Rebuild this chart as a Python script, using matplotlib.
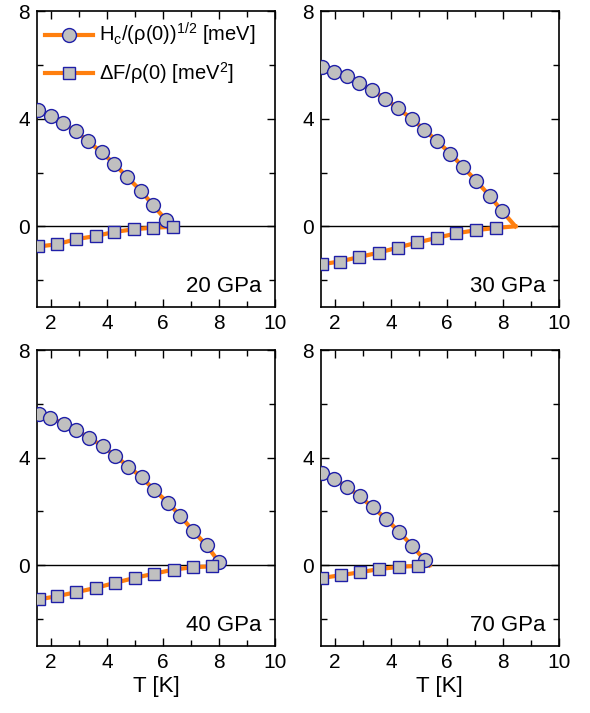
import numpy as np
import matplotlib
matplotlib.use('Agg')
import matplotlib.pyplot as plt
from matplotlib.ticker import MultipleLocator

plt.rcParams['font.family'] = ['Liberation Sans', 'DejaVu Sans']
plt.rcParams['mathtext.fontset'] = 'custom'
plt.rcParams['mathtext.rm'] = 'Liberation Sans'
plt.rcParams['mathtext.it'] = 'Liberation Sans'

pressures = ['20 GPa', '30 GPa', '40 GPa', '70 GPa']
tc = [6.4, 8.45, 8.05, 5.38]

# Hc/(rho(0))^1/2 [meV]
hc_t = [
    [1.55, 1.99, 2.43, 2.89, 3.33, 3.81, 4.26, 4.72, 5.22, 5.65, 6.12],
    [1.52, 1.96, 2.42, 2.87, 3.32, 3.80, 4.25, 4.75, 5.19, 5.65, 6.13, 6.58, 7.06, 7.54, 7.98],
    [1.56, 1.97, 2.45, 2.91, 3.36, 3.85, 4.30, 4.77, 5.24, 5.69, 6.18, 6.62, 7.08, 7.56, 8.01],
    [1.55, 1.96, 2.44, 2.89, 3.35, 3.83, 4.28, 4.76, 5.21],
]
hc_v = [
    [4.33, 4.10, 3.83, 3.53, 3.16, 2.75, 2.33, 1.83, 1.32, 0.78, 0.23],
    [5.94, 5.75, 5.57, 5.32, 5.05, 4.75, 4.38, 4.00, 3.59, 3.17, 2.70, 2.20, 1.68, 1.12, 0.56],
    [5.64, 5.49, 5.27, 5.02, 4.74, 4.43, 4.06, 3.67, 3.27, 2.80, 2.33, 1.84, 1.28, 0.74, 0.12],
    [3.44, 3.21, 2.91, 2.56, 2.15, 1.73, 1.25, 0.73, 0.19],
]

# dF/rho(0) [meV^2]
df_t = [
    [1.55, 2.20, 2.89, 3.60, 4.26, 4.96, 5.65, 6.37],
    [1.52, 2.17, 2.87, 3.56, 4.25, 4.95, 5.64, 6.34, 7.06, 7.75],
    [1.56, 2.21, 2.90, 3.61, 4.30, 4.99, 5.69, 6.39, 7.08, 7.77],
    [1.55, 2.20, 2.89, 3.58, 4.28, 4.97],
]
df_v = [
    [-0.75, -0.67, -0.48, -0.36, -0.21, -0.11, -0.05, -0.02],
    [-1.41, -1.31, -1.14, -0.98, -0.79, -0.60, -0.43, -0.26, -0.14, -0.06],
    [-1.27, -1.15, -1.00, -0.84, -0.65, -0.47, -0.31, -0.16, -0.07, -0.04],
    [-0.47, -0.37, -0.26, -0.14, -0.06, -0.02],
]

orange = '#ff7f0e'
fill = '#c0c0c0'
edge = '#1f1fa8'

fig = plt.figure(figsize=(5.9, 7.13), dpi=100)
lefts = [0.0627, 0.544, 0.0627, 0.544]
bottoms = [0.5694, 0.5694, 0.094, 0.094]
w, h = 0.403, 0.415

for k in range(4):
    ax = fig.add_axes([lefts[k], bottoms[k], w, h])
    ax.axhline(0, color='black', lw=1.0, zorder=1)
    ax.plot(hc_t[k] + [tc[k]], hc_v[k] + [0.0], color=orange, lw=3, zorder=2)
    ax.plot(df_t[k] + [tc[k]], df_v[k] + [0.0], color=orange, lw=3, zorder=2)
    ax.plot(hc_t[k], hc_v[k], ls='none', marker='o', ms=10, mfc=fill, mec=edge, mew=1.0, zorder=3)
    ax.plot(df_t[k], df_v[k], ls='none', marker='s', ms=8.8, mfc=fill, mec=edge, mew=1.0, zorder=3)

    ax.set_xlim(1.5, 10)
    ax.set_ylim(-3, 8)
    ax.xaxis.set_major_locator(MultipleLocator(2))
    ax.xaxis.set_minor_locator(MultipleLocator(1))
    ax.yaxis.set_major_locator(MultipleLocator(4))
    ax.yaxis.set_minor_locator(MultipleLocator(2))
    ax.tick_params(which='both', direction='in', top=True, right=True, labelsize=15, width=1)
    ax.tick_params(which='major', length=6, pad=5)
    ax.tick_params(which='minor', length=4)
    for s in ax.spines.values():
        s.set_linewidth(1.2)
    ax.text(0.945, 0.068, pressures[k], transform=ax.transAxes, ha='right', va='center', fontsize=16)
    if k >= 2:
        ax.set_xlabel('T [K]', fontsize=16, labelpad=3)
    if k == 0:
        ax.plot([], [], color=orange, lw=3, marker='o', ms=10, mfc=fill, mec=edge,
                label=r'H$_c$/($\rho$(0))$^{1/2}$ [meV]')
        ax.plot([], [], color=orange, lw=3, marker='s', ms=8.8, mfc=fill, mec=edge,
                label=r'$\Delta$F/$\rho$(0) [meV$^2$]')
        ax.legend(loc='upper left', frameon=False, fontsize=14.5, handlelength=2.4,
                  handletextpad=0.3, labelspacing=0.6, borderaxespad=0.1,
                  bbox_to_anchor=(-0.01, 1.0))

fig.savefig('out.png', dpi=100)
